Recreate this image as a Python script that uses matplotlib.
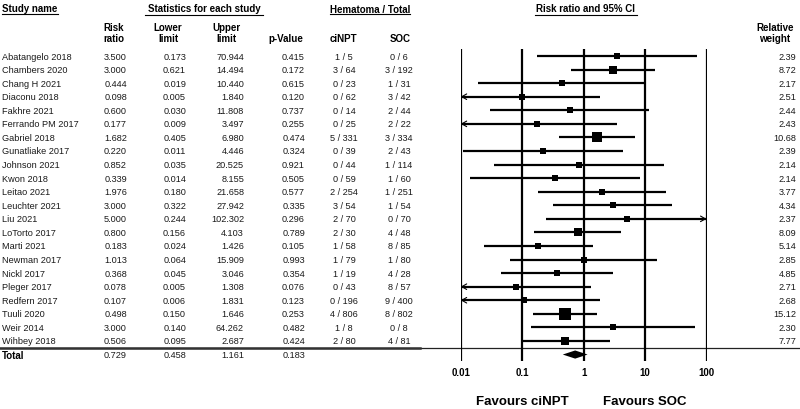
import numpy as np
import matplotlib
matplotlib.use("Agg")
import matplotlib.pyplot as plt

plt.rcParams['font.family'] = ['Liberation Sans', 'DejaVu Sans']

# ---- dados ----
estudos = ["Abatangelo 2018", "Chambers 2020", "Chang H 2021", "Diaconu 2018",
           "Fakhre 2021", "Ferrando PM 2017", "Gabriel 2018", "Gunatliake 2017",
           "Johnson 2021", "Kwon 2018", "Leitao 2021", "Leuchter 2021", "Liu 2021",
           "LoTorto 2017", "Marti 2021", "Newman 2017", "Nickl 2017", "Pleger 2017",
           "Redfern 2017", "Tuuli 2020", "Weir 2014", "Wihbey 2018"]
risk_ratio = [3.500, 3.000, 0.444, 0.098, 0.600, 0.177, 1.682, 0.220, 0.852, 0.339,
              1.976, 3.000, 5.000, 0.800, 0.183, 1.013, 0.368, 0.078, 0.107, 0.498,
              3.000, 0.506]
lower = [0.173, 0.621, 0.019, 0.005, 0.030, 0.009, 0.405, 0.011, 0.035, 0.014,
         0.180, 0.322, 0.244, 0.156, 0.024, 0.064, 0.045, 0.005, 0.006, 0.150,
         0.140, 0.095]
upper = [70.944, 14.494, 10.440, 1.840, 11.808, 3.497, 6.980, 4.446, 20.525, 8.155,
         21.658, 27.942, 102.302, 4.103, 1.426, 15.909, 3.046, 1.308, 1.831, 1.646,
         64.262, 2.687]
p_valor = [0.415, 0.172, 0.615, 0.120, 0.737, 0.255, 0.474, 0.324, 0.921, 0.505,
           0.577, 0.335, 0.296, 0.789, 0.105, 0.993, 0.354, 0.076, 0.123, 0.253,
           0.482, 0.424]
cinpt = ["1 / 5", "3 / 64", "0 / 23", "0 / 62", "0 / 14", "0 / 25", "5 / 331", "0 / 39",
         "0 / 44", "0 / 59", "2 / 254", "3 / 54", "2 / 70", "2 / 30", "1 / 58", "1 / 79",
         "1 / 19", "0 / 43", "0 / 196", "4 / 806", "1 / 8", "2 / 80"]
soc = ["0 / 6", "3 / 192", "1 / 31", "3 / 42", "2 / 44", "2 / 22", "3 / 334", "2 / 43",
       "1 / 114", "1 / 60", "1 / 251", "1 / 54", "0 / 70", "4 / 48", "8 / 85", "1 / 80",
       "4 / 28", "8 / 57", "9 / 400", "8 / 802", "0 / 8", "4 / 81"]
peso = [2.39, 8.72, 2.17, 2.51, 2.44, 2.43, 10.68, 2.39, 2.14, 2.14, 3.77, 4.34, 2.37,
        8.09, 5.14, 2.85, 4.85, 2.71, 2.68, 15.12, 2.30, 7.77]
total = (0.729, 0.458, 1.161, 0.183)
ticks = [0.01, 0.1, 1, 10, 100]
tick_labels = ["0.01", "0.1", "1", "10", "100"]

# ---- layout (pixels) ----
W, H = 800, 410
y0_px, dy_px = 57.0, 13.57
ylim = ((H - y0_px) / dy_px, -y0_px / dy_px)
def py(px):
    return (px - y0_px) / dy_px

n = len(estudos)
fig = plt.figure(figsize=(8, 4.1), dpi=100)
ax = fig.add_axes([0, 0, 1, 1])
ax.set_xlim(0, W)
ax.set_ylim(*ylim)
ax.axis('off')

fs = 6.6
fh = 7.0
cor = '#1a1a1a'

# cabecalhos
ax.text(2, py(9), "Study name", fontsize=fh, weight='bold', va='center', ha='left')
ax.plot([2, 58], [py(15), py(15)], color='k', lw=0.8)
ax.text(204, py(9), "Statistics for each study", fontsize=fh, weight='bold', va='center', ha='center')
ax.plot([145, 263], [py(15.5), py(15.5)], color='k', lw=0.8)
ax.text(370, py(10), "Hematoma / Total", fontsize=fh, weight='bold', va='center', ha='center')
ax.plot([330, 410], [py(15), py(15)], color='k', lw=0.8)
ax.text(585, py(9), "Risk ratio and 95% CI", fontsize=fh, weight='bold', va='center', ha='center')
ax.plot([535, 637], [py(15.5), py(15.5)], color='k', lw=0.8)

sub = [(114, "Risk\nratio"), (168, "Lower\nlimit"), (226, "Upper\nlimit"),
       (775, "Relative\nweight")]
for x, t in sub:
    ax.text(x, py(33.5), t, fontsize=fh, weight='bold', va='center', ha='center', linespacing=1.15)
ax.text(286, py(39.5), "p-Value", fontsize=fh, weight='bold', va='center', ha='center')
ax.text(343, py(39.5), "ciNPT", fontsize=fh, weight='bold', va='center', ha='center')
ax.text(400, py(39.5), "SOC", fontsize=fh, weight='bold', va='center', ha='center')

# linhas da tabela
for i in range(n):
    ax.text(2, i, estudos[i], fontsize=fs, va='center', ha='left', color=cor)
    ax.text(127, i, f"{risk_ratio[i]:.3f}", fontsize=fs, va='center', ha='right', color=cor)
    ax.text(186, i, f"{lower[i]:.3f}", fontsize=fs, va='center', ha='right', color=cor)
    ax.text(244, i, f"{upper[i]:.3f}", fontsize=fs, va='center', ha='right', color=cor)
    ax.text(305, i, f"{p_valor[i]:.3f}", fontsize=fs, va='center', ha='right', color=cor)
    ax.text(344, i, cinpt[i], fontsize=fs, va='center', ha='center', color=cor)
    ax.text(399, i, soc[i], fontsize=fs, va='center', ha='center', color=cor)
    ax.text(796, i, f"{peso[i]:.2f}", fontsize=fs, va='center', ha='right', color=cor)

ax.text(2, n, "Total", fontsize=fh, weight='bold', va='center', ha='left')
for x, v in zip([127, 186, 244, 305], total):
    ax.text(x, n, f"{v:.3f}", fontsize=fs, va='center', ha='right', color=cor)

# separador
ax.plot([0, W], [n - 0.5, n - 0.5], color='#222', lw=0.9)
ax.plot([0, 420], [n - 0.5, n - 0.5], color='#333', lw=1.8)

# ---- forest plot ----
x_lo, x_hi = 460.7, 706.5
axf = fig.add_axes([x_lo / W, 0, (x_hi - x_lo) / W, 1])
axf.set_xscale('log')
axf.set_xlim(ticks[0], ticks[-1])
axf.set_ylim(*ylim)
axf.axis('off')
axf.patch.set_alpha(0)

axf.vlines(ticks, -0.5, n + 0.5, color='k', lw=1.6)
for t, lab in zip(ticks, tick_labels):
    axf.text(t, py(373), lab, fontsize=fh, weight='bold', ha='center', va='center')

for i in range(n):
    lo = max(lower[i], ticks[0])
    hi = min(upper[i], ticks[-1])
    axf.hlines(i, lo, hi, color='k', lw=1.6)
    if lower[i] < ticks[0]:
        axf.annotate("", xy=(ticks[0], i), xytext=(ticks[0] * 1.3, i),
                     arrowprops=dict(arrowstyle='->,head_length=0.35,head_width=0.2', lw=0.8, color='k',
                                     shrinkA=0, shrinkB=0))
    if upper[i] > ticks[-1]:
        axf.annotate("", xy=(ticks[-1], i), xytext=(ticks[-1] / 1.3, i),
                     arrowprops=dict(arrowstyle='->,head_length=0.35,head_width=0.2', lw=0.8, color='k',
                                     shrinkA=0, shrinkB=0))
    lado = max(6.0, 3.0 * np.sqrt(peso[i]))
    axf.plot(risk_ratio[i], i, marker='s', ms=lado * 0.72, color='k', mec='k', mew=0)

# diamante do total
rr, lo, hi = total[0], total[1], total[2]
h = 0.3
axf.fill([lo, rr, hi, rr], [n, n - h, n, n + h], color='k', lw=0)

fig.text(522 / W, 1 - 402 / H, "Favours ciNPT", fontsize=9.5, weight='bold', ha='center', va='center')
fig.text(645 / W, 1 - 402 / H, "Favours SOC", fontsize=9.5, weight='bold', ha='center', va='center')

fig.savefig("out.png", dpi=100)
